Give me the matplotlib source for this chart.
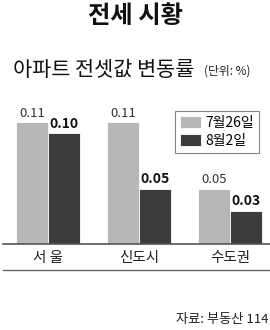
import numpy as np
import matplotlib
matplotlib.use('Agg')
from matplotlib import pyplot as plt
from matplotlib.lines import Line2D

plt.rcParams['font.family'] = ['Noto Sans CJK KR', 'DejaVu Sans']

regions = ['서 울', '신도시', '수도권']
jul26 = [0.11, 0.11, 0.05]
aug2 = [0.10, 0.05, 0.03]
series_names = ['7월26일', '8월2일']

light = '#b5b7b9'
dark = '#3c3c3e'

W, H = 270, 330
fig = plt.figure(figsize=(2.7, 3.3), dpi=100)

# axes placed in pixel terms: baseline at y=244, top at y=100
ax = fig.add_axes([3 / W, 1 - 244 / H, 1 - 3 / W, 144 / H])
x = np.arange(len(regions))
w = 0.35
b1 = ax.bar(x - w / 2, jul26, w, color=light, edgecolor='white', linewidth=0.6)
b2 = ax.bar(x + w / 2, aug2, w, color=dark, edgecolor='white', linewidth=0.6)
ax.set_xlim(-0.495, 2.44)
ax.set_ylim(0, 0.1298)
for s in ['top', 'right', 'left']:
    ax.spines[s].set_visible(False)
ax.spines['bottom'].set_color('#555555')
ax.spines['bottom'].set_linewidth(1.2)
ax.set_yticks([])
ax.set_xticks([])

for xi, v in zip(x, jul26):
    ax.text(xi - w / 2, v + 0.002, f'{v:.2f}', ha='center', va='bottom',
            fontsize=9.5, color='#333333')
for xi, v in zip(x, aug2):
    ax.text(xi + w / 2, v + 0.002, f'{v:.2f}', ha='center', va='bottom',
            fontsize=10, color='#111111', fontweight='bold')

for xi, name in zip(x, regions):
    ax.text(xi, -0.0125, name, ha='center', va='center', fontsize=10.5,
            color='#222222')

# bottom rule under the category labels
fig.add_artist(Line2D([3 / W, 1], [1 - 270 / H, 1 - 270 / H], color='#666666',
                      linewidth=1.0))

leg = ax.legend([b1, b2], series_names, loc='upper left',
                bbox_to_anchor=((175 - 3) / 267, 1 - (111 - 100) / 144),
                frameon=True, fancybox=False, edgecolor='#666666',
                fontsize=10, handlelength=1.5, handleheight=1.0,
                handletextpad=0.35, borderpad=0.35, labelspacing=0.3,
                borderaxespad=0)
leg.get_frame().set_linewidth(0.8)

fig.text(0.5, 1 - 16 / H, '전세 시황', ha='center', va='center',
         fontsize=17.5, fontweight='bold', color='#111111')
fig.text(13 / W, 1 - 70 / H, '아파트 전셋값 변동률', ha='left', va='center',
         fontsize=15, color='#111111')
fig.text(204 / W, 1 - 71 / H, '(단위: %)', ha='left', va='center',
         fontsize=8.5, color='#222222')
fig.text(268 / W, 1 - 320 / H, '자료: 부동산 114', ha='right', va='center',
         fontsize=9.5, color='#222222')

fig.savefig('out.png', dpi=100)
